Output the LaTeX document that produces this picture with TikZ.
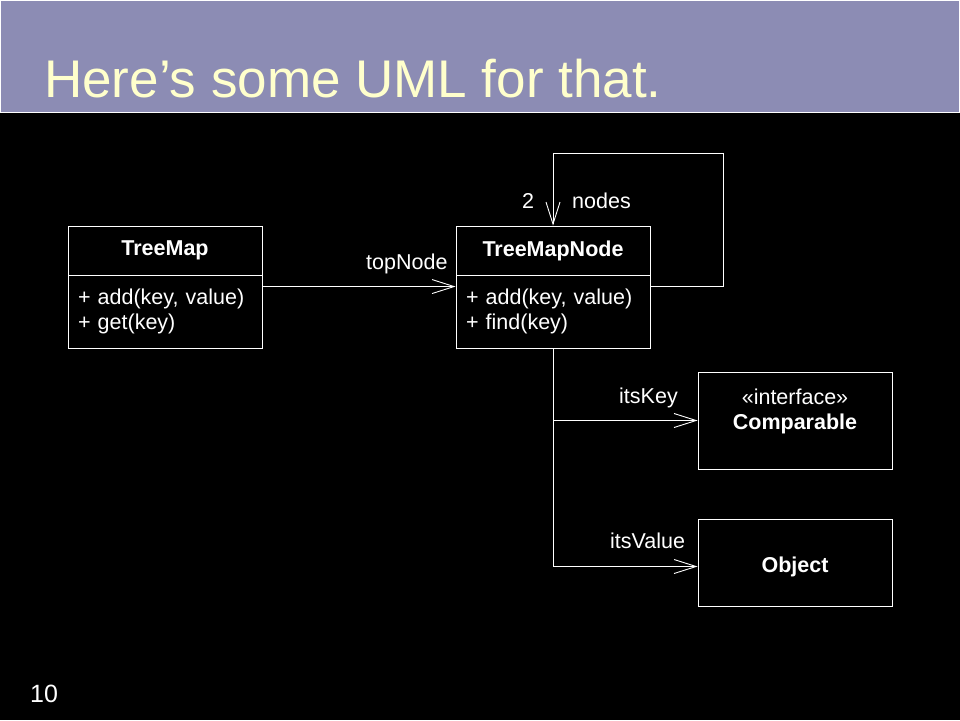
\documentclass[tikz,border=0pt]{standalone}
\usepackage{fontspec}
\setmainfont{Liberation Sans}
\usetikzlibrary{arrows.meta}

\definecolor{bandcolor}{RGB}{140,140,180}
\definecolor{titlecolor}{RGB}{255,255,204}

\tikzset{
  classbox/.style={draw=white, line width=0.9pt, minimum width=194pt, inner sep=0pt, text=white, font=\fontsize{21.5}{25}\selectfont},
  opsbox/.style={classbox, align=left, text width=174pt},
  assoc/.style={draw=white, line width=0.9pt, -{Straight Barb[length=22pt,width=14pt]}},
  rolename/.style={anchor=base west, inner sep=0pt, text=white, font=\fontsize{21.5}{24}\selectfont}
}

\begin{document}
\begin{tikzpicture}[x=1pt,y=-1pt]
\fill[black] (0,0) rectangle (960,720);
\useasboundingbox (0,0) rectangle (960,720);
\filldraw[fill=bandcolor, draw=white!75, line width=0.8pt] (0.5,0) rectangle (959.5,112);
\node(title) [anchor=base west, inner sep=0pt, text=titlecolor, font=\fontsize{53}{60}\selectfont] at (44,97) {Here’s some UML for that.};
\node(pagenum) [anchor=base west, inner sep=0pt, text=white, font=\fontsize{25}{30}\selectfont] at (30,702) {10};

% classes
\node[classbox, minimum height=49pt] (treemap) at (165,250.5) {\textbf{TreeMap}};
\node[opsbox, minimum height=73pt] (treemapops) at (165,311.5) {+ add(key, value)\\+ get(key)};
\node[classbox, minimum height=49pt] (treemapnode) at (553,250.5) {\textbf{TreeMapNode}};
\node[opsbox, minimum height=73pt] (nodeops) at (553,311.5) {+ add(key, value)\\+ find(key)};
\node[classbox, align=center, minimum height=97pt] (comparable) at (795,420.5) {«interface»\\\textbf{Comparable}\\[-3pt]};
\node[classbox, minimum height=87pt, text height=24pt] (object) at (795,562.5) {\textbf{Object}};

% associations
\draw[assoc] ([yshift=-12pt]treemapops.north east) -- ([yshift=-12pt]nodeops.north west);
\coordinate (loopcorner) at (723,153);
\draw[assoc] ([yshift=-12pt]nodeops.north east) -| (loopcorner) -| (treemapnode.north);
\draw[assoc] (nodeops.south) |- (comparable.west);
\draw[assoc] (nodeops.south) |- ([yshift=-4pt]object.west);

% role names
\node[rolename] (topnode) at (366,269) {topNode};
\node[rolename] (mult) at (522,208) {2};
\node[rolename] (nodes) at (572,208) {nodes};
\node[rolename] (itskey) at (619,403) {itsKey};
\node[rolename] (itsvalue) at (610,548) {itsValue};

\end{tikzpicture}
\end{document}
